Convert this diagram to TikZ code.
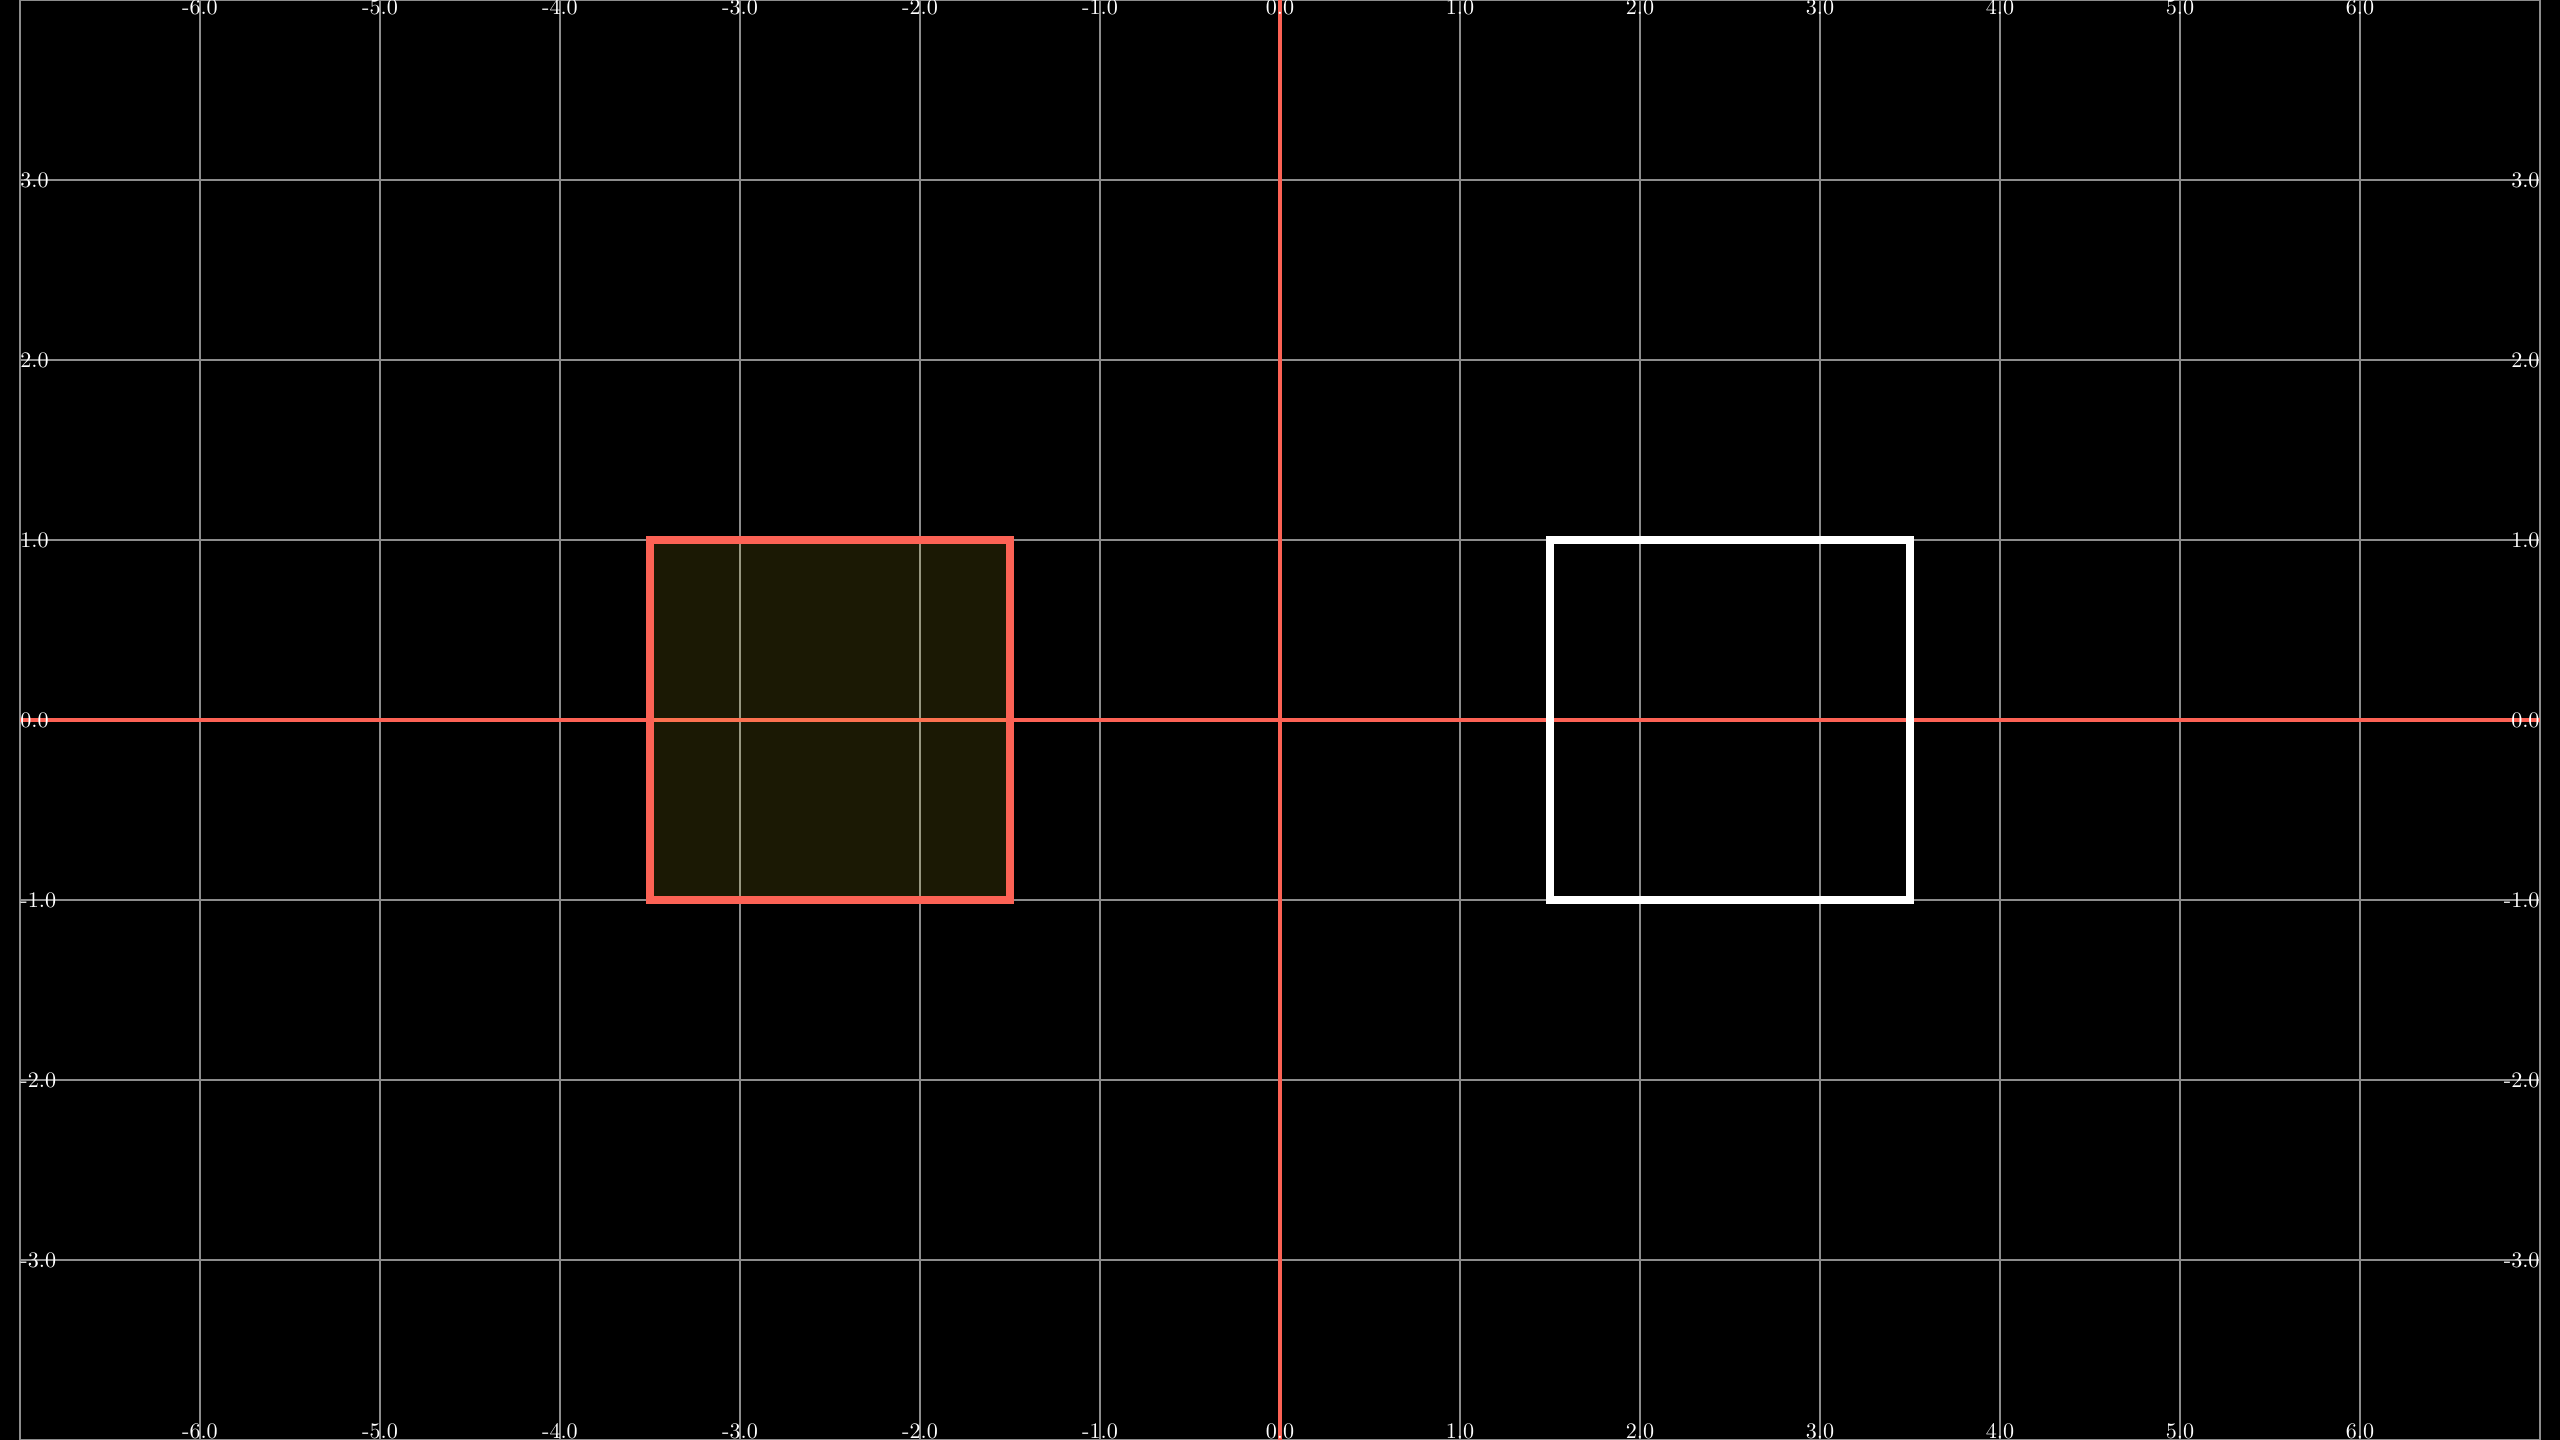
\documentclass[tikz,border=0pt]{standalone}
\definecolor{mred}{HTML}{FC6255}
\definecolor{gridgray}{HTML}{8C8C8C}
\definecolor{fillyel}{HTML}{FFF428}
\tikzset{
  gridline/.style={draw=gridgray, line width=0.35pt},
  axisline/.style={draw=mred, line width=0.64pt},
  lbl/.style={text=white, inner sep=0pt, font=\fontsize{10}{12}\selectfont, scale=0.35, transform shape},
  boxline/.style={line width=1.28pt},
}
\begin{document}
\begin{tikzpicture}
\fill[black] (-7.1111,-4) rectangle (7.1111,4);
\useasboundingbox (-7.1111,-4) rectangle (7.1111,4);
\foreach \x in {-7,...,7} \draw[gridline] (\x,-4) -- (\x,4);
\foreach \y in {-4,...,4} \draw[gridline] (-7,\y) -- (7,\y);
\draw[axisline] (-7,0) -- (7,0);
\draw[axisline] (0,-4) -- (0,4);
\draw[boxline, draw=mred, fill=fillyel, fill opacity=0.105] (-3.5,-1) rectangle (-1.5,1);
\draw[boxline, draw=white] (1.5,-1) rectangle (3.5,1);
\foreach \x in {-6,...,6} {
  \node[lbl, anchor=base] (t\x) at (\x,3.917) {\x.0};
  \node[lbl, anchor=base] (b\x) at (\x,-3.99) {\x.0};
}
\foreach \y in {-3,...,3} {
  \node[lbl, anchor=west] (l\y) at (-7,\y) {\y.0};
  \node[lbl, anchor=east] (r\y) at (7,\y) {\y.0};
}
\end{tikzpicture}
\end{document}
